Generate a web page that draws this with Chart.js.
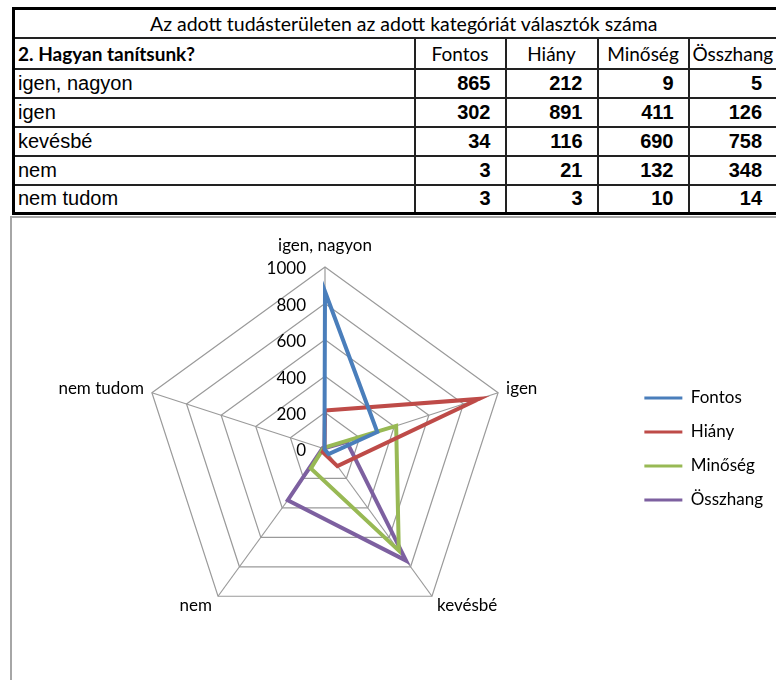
<html>
<head>
<meta charset="utf-8">
<script src="https://cdn.jsdelivr.net/npm/chart.js@4.4.1/dist/chart.umd.min.js"></script>
<style>
  body { margin:0; background:#fff; overflow:hidden; width:776px; height:680px; position:relative; }
  #tbl { position:absolute; left:12px; top:7px; border-collapse:collapse; table-layout:fixed; width:860px; border:3px solid #000; }
  #tbl td { padding:0 3px; border:2px solid #222; white-space:nowrap; overflow:hidden; }
  .cal { font-family: Lato, "Open Sans", sans-serif; font-size:19.5px; }
  .nar { font-family: "Liberation Sans Narrow", "Arial Narrow", sans-serif; font-size:20px; }
  .num { text-align:right; font-weight:bold; padding-right:14px !important; }
  #box { position:absolute; left:10px; top:216px; width:800px; height:500px; border-left:2px solid #a6a6a6; border-top:2px solid #a6a6a6; }
  #c { position:absolute; left:12px; top:218px; }
</style>
</head>
<body>
<table id="tbl"></table>
<div id="box"></div>
<canvas id="c" width="764" height="462"></canvas>
<script>
  var categories = ['igen, nagyon', 'igen', 'kevésbé', 'nem', 'nem tudom'];
  var seriesNames = ['Fontos', 'Hiány', 'Minőség', 'Összhang'];
  var fontos   = [865, 302, 34, 3, 3];
  var hiany    = [212, 891, 116, 21, 3];
  var minoseg  = [9, 411, 690, 132, 10];
  var osszhang = [5, 126, 758, 348, 14];
  var tickValues = [0, 200, 400, 600, 800, 1000];
  var colors = ['#4a7ebb', '#be4b48', '#98b954', '#7d60a0'];
  var series = [fontos, hiany, minoseg, osszhang];

  // table
  var tbl = document.getElementById('tbl');
  var html = "<colgroup><col style='width:401px'><col style='width:91px'><col style='width:92px'><col style='width:91px'><col style='width:185px'></colgroup>";
  html += "<tr style='height:29px'><td colspan='5' class='cal' style='padding-left:135px'>Az adott tudásterületen az adott kategóriát választók száma</td></tr>";
  html += "<tr style='height:31px'><td class='cal' style='font-weight:bold;font-size:19px'>2. Hagyan tanítsunk?</td>";
  for (var s = 0; s < seriesNames.length; s++) {
    html += "<td class='cal' style='font-size:19px;text-align:" + (s < 3 ? "center" : "left") + "'>" + seriesNames[s] + "</td>";
  }
  html += "</tr>";
  for (var i = 0; i < categories.length; i++) {
    html += "<tr style='height:29px'><td class='nar'>" + categories[i] + "</td>";
    for (var s = 0; s < series.length; s++) {
      html += "<td class='nar num' style='" + (s == 3 ? "padding-right:110px !important" : "") + "'>" + series[s][i] + "</td>";
    }
    html += "</tr>";
  }
  tbl.innerHTML = html;

  // Excel-like placement of tick labels and category labels
  var labelPlugin = {
    id: 'excelLabels',
    afterDraw: function(chart) {
      var sc = chart.scales.r;
      var ctx = chart.ctx;
      ctx.save();
      ctx.font = '17px Lato';
      ctx.fillStyle = '#000';
      ctx.textBaseline = 'middle';
      ctx.textAlign = 'right';
      tickValues.forEach(function(v) {
        var p = sc.getPointPosition(0, sc.getDistanceFromCenterForValue(v));
        ctx.fillText(String(v), p.x - 19, p.y + 2);
      });
      // [align, dx, dy] for each category
      var place = [['center', 0, -21], ['left', 8, -4], ['left', 5, 9], ['right', -6, 9], ['right', -8, -4]];
      categories.forEach(function(lab, i) {
        var p = sc.getPointPosition(i, sc.drawingArea);
        ctx.textAlign = place[i][0];
        ctx.fillText(lab, p.x + place[i][1], p.y + place[i][2]);
      });
      ctx.restore();
    }
  };

  var ctx = document.getElementById('c').getContext('2d');
  var chart = new Chart(ctx, {
    type: 'radar',
    data: {
      labels: categories,
      datasets: series.map(function(d, k) {
        return {
          label: seriesNames[k],
          data: d,
          borderColor: colors[k],
          backgroundColor: colors[k],
          borderWidth: 4,
          fill: false,
          pointRadius: 0,
          tension: 0
        };
      })
    },
    options: {
      responsive: false,
      animation: false,
      layout: { padding: { top: 49, bottom: 49, left: 12, right: 3 } },
      plugins: {
        legend: {
          position: 'right',
          labels: {
            boxWidth: 38,
            boxHeight: 3,
            padding: 17,
            color: '#000',
            font: { family: 'Lato', size: 17 },
            generateLabels: function(ch) {
              var items = Chart.defaults.plugins.legend.labels.generateLabels(ch);
              items.forEach(function(it) { it.lineWidth = 0; it.fillStyle = it.strokeStyle; });
              return items;
            }
          }
        },
        tooltip: { enabled: false }
      },
      scales: {
        r: {
          min: 0,
          max: 1000,
          ticks: { stepSize: 200, display: false },
          grid: { color: '#9a9a9a', lineWidth: 1.2 },
          angleLines: { color: '#9a9a9a', lineWidth: 1.2 },
          pointLabels: { display: false }
        }
      }
    },
    plugins: [labelPlugin]
  });
</script>
</body>
</html>
